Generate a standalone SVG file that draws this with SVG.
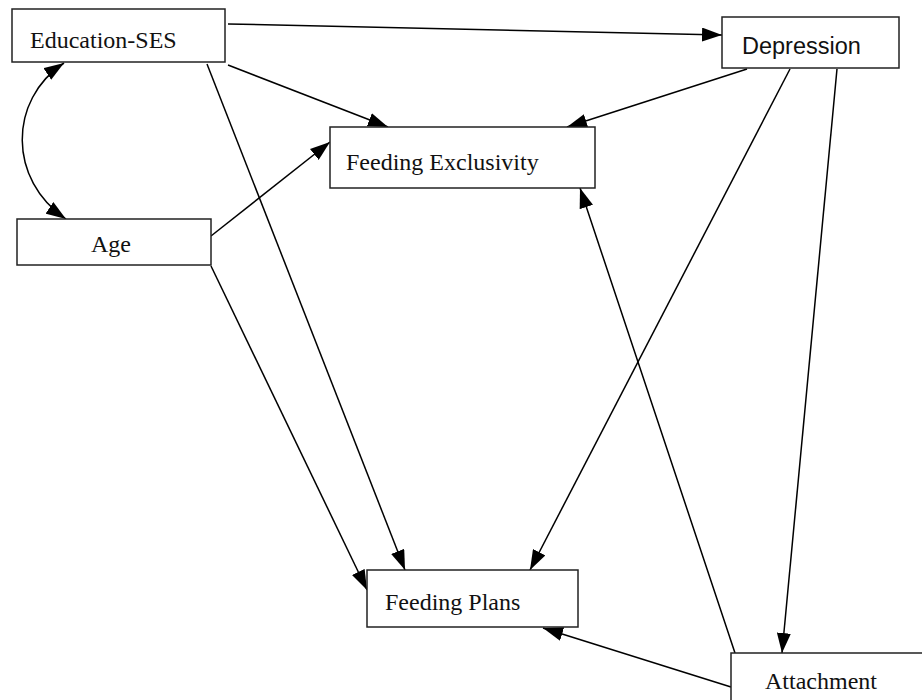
<svg xmlns="http://www.w3.org/2000/svg" width="922" height="700" viewBox="0 0 922 700">
<defs>
<marker id="ah" markerUnits="userSpaceOnUse" markerWidth="22" markerHeight="14" refX="20" refY="7" orient="auto-start-reverse">
<path d="M0,0 L20,7 L0,14 Z" fill="#000"/>
</marker>
<style>
.box{fill:#fff;stroke:#222;stroke-width:1.5}
.t{font-family:"Liberation Serif","Times New Roman",serif;font-size:24px;fill:#111}
.s{font-family:"Liberation Sans",Arial,sans-serif;font-size:23.5px;fill:#111}
.c{fill:none;stroke:#000;stroke-width:1.5;marker-end:url(#ah)}
</style>
</defs>
<rect width="922" height="700" fill="#fff"/>
<g id="connectors">
<path class="c" d="M228,24 L722,35"/>
<path class="c" d="M228,65 L388,127"/>
<path class="c" d="M207,64 L405,570"/>
<path class="c" d="M64,63 C8,100 8,180 66,219" style="marker-start:url(#ah)"/>
<path class="c" d="M211,236 L330,142"/>
<path class="c" d="M211,266 L367,590"/>
<path class="c" d="M747,69 L567,127"/>
<path class="c" d="M790,69 L530,570"/>
<path class="c" d="M837,69 L782,653"/>
<path class="c" d="M735,653 L580,188"/>
<path class="c" d="M731,687 L543,628"/>
</g>
<g id="education-ses">
<rect class="box" x="12" y="9" width="213" height="53"/>
<text class="t" x="30" y="48">Education-SES</text>
</g>
<g id="depression">
<rect class="box" x="722" y="17" width="177" height="51"/>
<text class="s" x="742" y="54">Depression</text>
</g>
<g id="age">
<rect class="box" x="17" y="219" width="194" height="46"/>
<text class="t" x="91" y="252">Age</text>
</g>
<g id="feeding-exclusivity">
<rect class="box" x="330" y="127" width="265" height="61"/>
<text class="t" x="346" y="170">Feeding Exclusivity</text>
</g>
<g id="feeding-plans">
<rect class="box" x="367" y="570" width="211" height="57"/>
<text class="t" x="385" y="610">Feeding Plans</text>
</g>
<g id="attachment">
<rect class="box" x="731" y="653" width="200" height="60"/>
<text class="t" x="765" y="689">Attachment</text>
</g>
</svg>
